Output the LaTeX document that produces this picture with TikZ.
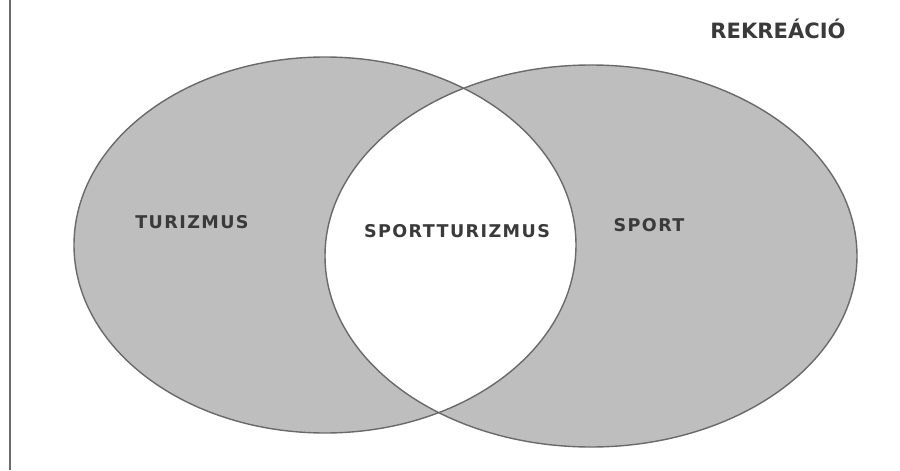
\documentclass[tikz,border=0pt]{standalone}
\usepackage{fontspec}
\setmainfont{DejaVu Sans}
\usepackage{tikz}
\usetikzlibrary{positioning}
\definecolor{setfill}{HTML}{BEBEBE}
\definecolor{setline}{HTML}{6A6A6A}
\definecolor{settext}{HTML}{3A3A3A}

\begin{document}
\begin{tikzpicture}[
  every node/.style={text=settext, inner sep=0pt, anchor=base},
  setlabel/.style={font=\fontsize{10}{12}\selectfont\bfseries\addfontfeature{LetterSpace=8}},
  titlelabel/.style={font=\fontsize{12}{14}\selectfont\bfseries}
]
  \useasboundingbox (0,0) rectangle (18,9.4);
  % two overlapping sets, the overlap left white
  \fill[setfill, even odd rule] (6.5,4.5) ellipse [x radius=5.02, y radius=3.76]
    (11.82,4.28) ellipse [x radius=5.32, y radius=3.82];
  \draw[setline, line width=0.8pt] (6.5,4.5) ellipse [x radius=5.02, y radius=3.76];
  \draw[setline, line width=0.8pt] (11.82,4.28) ellipse [x radius=5.32, y radius=3.82];
  \draw[setline, line width=0.6pt] (0.2,0) -- (0.2,9.4);

  \node[setlabel] (tur) at (3.84,4.84) {TURIZMUS};
  \node[setlabel] (sptur) at (9.14,4.66) {SPORTTURIZMUS};
  \node[setlabel] (spo) at (12.98,4.78) {SPORT};
  \node[titlelabel] (rek) at (15.56,8.64) {REKREÁCIÓ};
\end{tikzpicture}
\end{document}
